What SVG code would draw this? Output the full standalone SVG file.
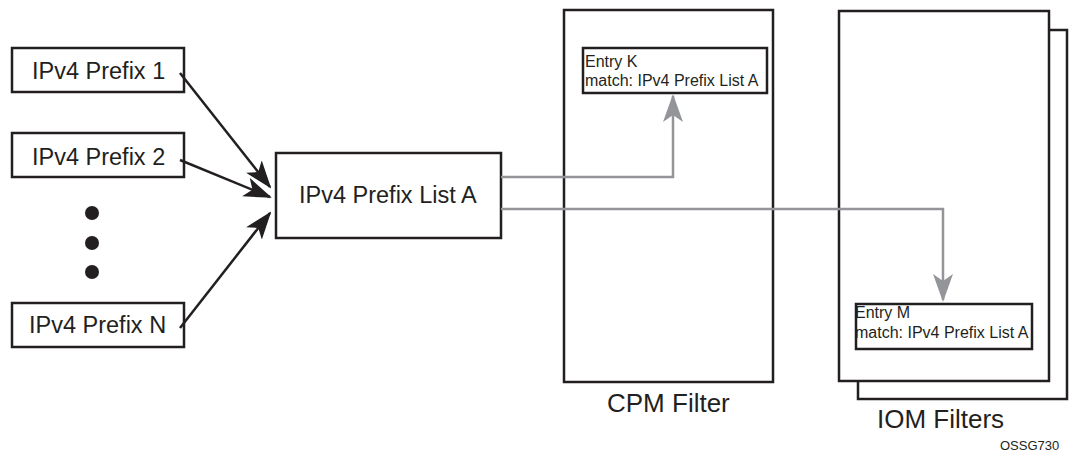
<svg xmlns="http://www.w3.org/2000/svg" width="1070" height="454" viewBox="0 0 1070 454">
<style>
.box{fill:#fff;stroke:#231f20;stroke-width:2.5}
.t{font-family:"Liberation Sans",Arial,sans-serif;fill:#231f20}
.big{font-size:23.5px}
.sm{font-size:16px}
.lbl{font-size:26px}
.blk{stroke:#231f20;stroke-width:2.5;fill:none}
.gry{stroke:#939598;stroke-width:2.5;fill:none}
</style>
<defs>
<marker id="ab" viewBox="0 0 28 20" refX="26" refY="10" markerWidth="28" markerHeight="20" markerUnits="userSpaceOnUse" orient="auto">
<path d="M0,0 L28,10 L0,20 L7,10 Z" fill="#231f20"/>
</marker>
<marker id="ag" viewBox="0 0 28 20" refX="26" refY="10" markerWidth="28" markerHeight="20" markerUnits="userSpaceOnUse" orient="auto">
<path d="M0,0 L28,10 L0,20 L7,10 Z" fill="#939598"/>
</marker>
</defs>
<g id="iom-back"><rect class="box" x="858" y="30" width="209" height="369"/></g>
<g id="iom-front"><rect class="box" x="839" y="11" width="210" height="370"/></g>
<g id="cpm"><rect class="box" x="564" y="10" width="209" height="372"/></g>
<g id="p1"><rect class="box" x="12" y="48" width="172" height="44"/><text class="t big" x="32" y="79">IPv4 Prefix 1</text></g>
<g id="p2"><rect class="box" x="12" y="133" width="172" height="44"/><text class="t big" x="32" y="165">IPv4 Prefix 2</text></g>
<g id="pn"><rect class="box" x="12" y="303" width="172" height="44"/><text class="t big" x="29" y="333">IPv4 Prefix N</text></g>
<g id="dots" fill="#231f20"><circle cx="92" cy="213" r="7"/><circle cx="92" cy="243" r="7"/><circle cx="92" cy="272" r="7"/></g>
<g id="listA"><rect class="box" x="276" y="153" width="225" height="85"/><text class="t big" x="299" y="203">IPv4 Prefix List A</text></g>
<g id="entryK"><rect class="box" x="583" y="48" width="184" height="45"/><text class="t sm" x="585" y="67">Entry K</text><text class="t sm" x="585" y="86">match: IPv4 Prefix List A</text></g>
<g id="entryM"><rect class="box" x="856" y="304" width="176" height="45"/><text class="t sm" x="855" y="318">Entry M</text><text class="t sm" x="855" y="338">match: IPv4 Prefix List A</text></g>
<g id="connectors">
<line class="blk" x1="180" y1="73" x2="270" y2="187" marker-end="url(#ab)"/>
<line class="blk" x1="180" y1="160" x2="270" y2="197" marker-end="url(#ab)"/>
<line class="blk" x1="180" y1="328" x2="270" y2="213" marker-end="url(#ab)"/>
<polyline class="gry" points="501,177 673,177 673,96" marker-end="url(#ag)"/>
<polyline class="gry" points="501,209 943,209 943,300" marker-end="url(#ag)"/>
</g>
<text class="t lbl" x="607" y="412">CPM Filter</text>
<text class="t lbl" x="877" y="428">IOM Filters</text>
<text class="t" x="1000" y="450" font-size="13">OSSG730</text>
</svg>
